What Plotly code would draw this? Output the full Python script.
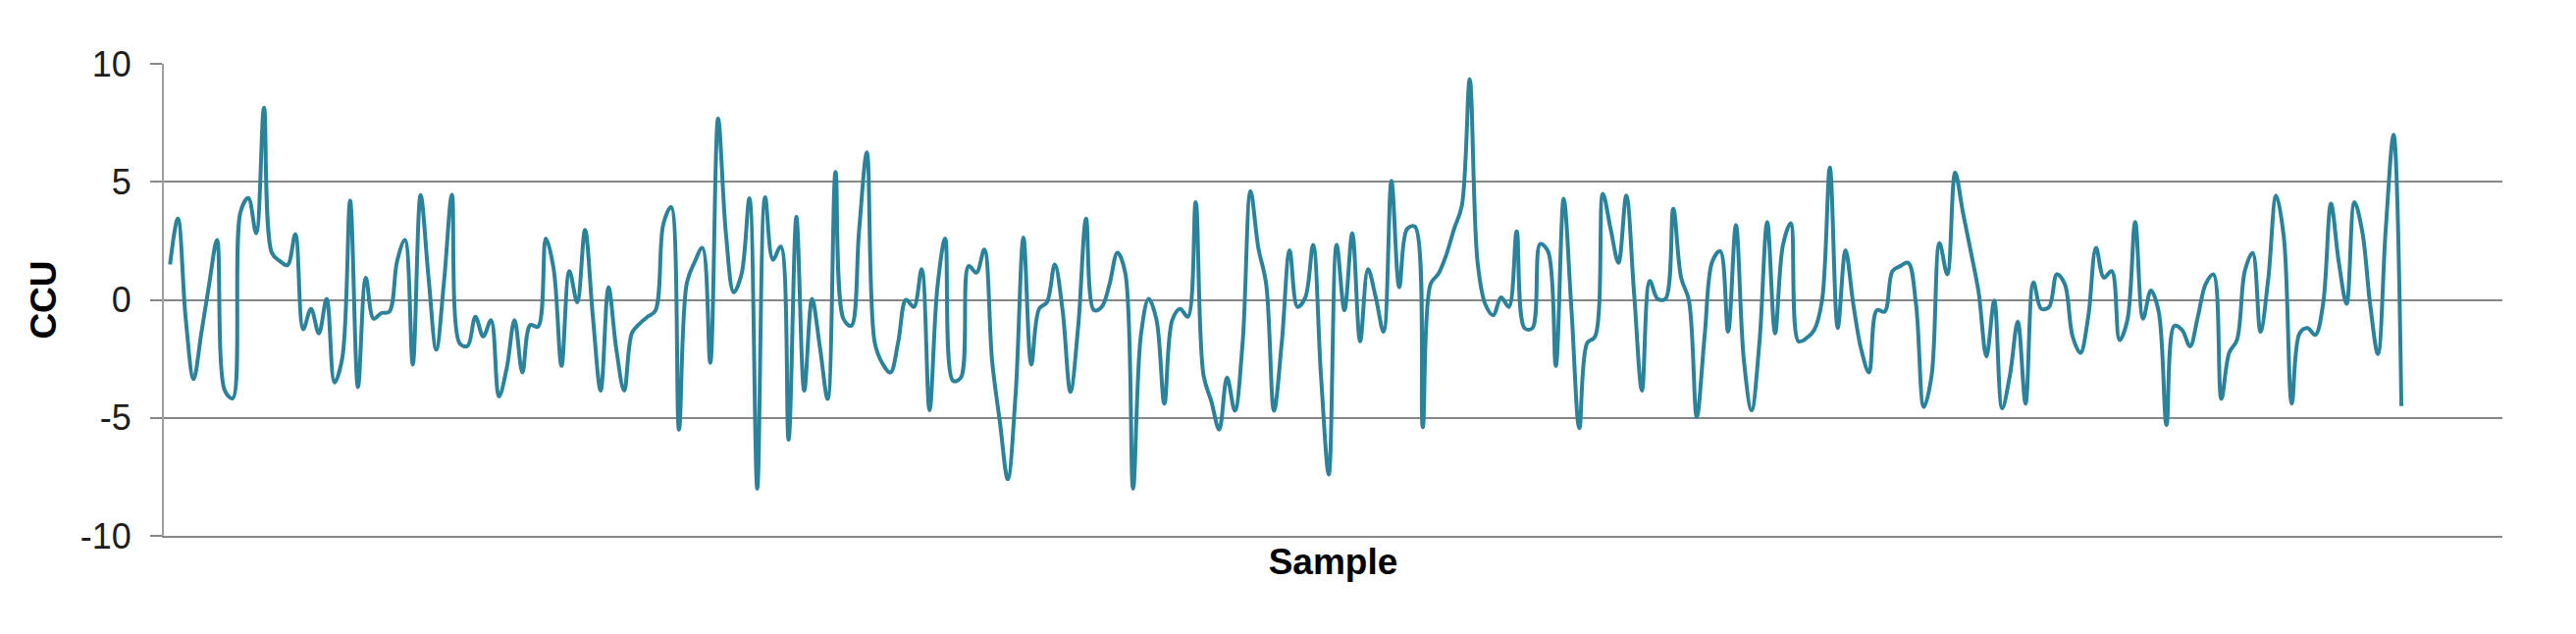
import plotly.graph_objects as go

# CCU value for each sample
ccu = [
    1.5, 3.44, -0.8, -3.36, -1.4, 0.67, 2.54, -3.85, -4.17, 3.72,
    4.31, 2.82, 8.14, 1.99, 1.65, 1.47, 2.78, -1.25, -0.38, -1.42,
    0.04, -3.5, -2.46, 4.2, -3.7, 0.94, -0.8, -0.56, -0.5, 1.64,
    2.54, -2.74, 4.44, 1.0, -2.11, 0.8, 4.45, -1.85, -1.95, -0.72,
    -1.55, -0.86, -4.1, -2.9, -0.86, -3.08, -1.07, -1.14, 2.6, 1.3,
    -2.8, 1.22, -0.1, 2.96, -0.7, -3.85, 0.53, -2.1, -3.85, -1.4,
    -1.0, -0.72, -0.45, 3.2, 3.93, -5.5, 0.7, 1.6, 2.2, -2.67,
    7.68, 2.8, 0.32, 1.1, 4.3, -8.0, 4.35, 1.7, 2.26, -5.93,
    3.51, -3.85, 0.04, -2.0, -4.2, 5.42, -0.8, -1.1, 2.9, 6.25,
    -1.8, -2.7, -3.08, -1.8, 0.0, -0.3, 1.3, -4.68, 0.5, 2.6,
    -3.43, -3.3, 1.43, 1.15, 2.13, -2.6, -5.2, -7.6, -4.0, 2.64,
    -2.74, -0.38, -0.1, 1.5, -0.44, -3.9, -1.1, 3.44, -0.44, -0.3,
    0.67, 2.0, 1.15, -8.0, -1.5, 0.04, -0.86, -4.4, -0.86, -0.38,
    -0.72, 4.14, -3.2, -4.3, -5.5, -3.3, -4.7, -1.8, 4.6, 2.2,
    0.67, -4.7, -1.8, 2.1, -0.3, 0.1, 2.33, -3.2, -7.4, 2.33,
    -0.44, 2.82, -1.76, 1.3, 0.1, -1.35, 5.04, 0.53, 3.0, 3.1,
    -5.4, 0.67, 1.1, 1.9, 3.0, 4.0, 9.35, 1.6, -0.2, -0.65,
    0.1, -0.3, 2.9, -1.2, -1.2, 2.36, 2.05, -2.8, 4.28, -0.44,
    -5.44, -1.83, -1.56, 4.49, 3.0, 1.57, 4.42, 0.25, -3.85, 0.8,
    0.04, 0.04, 3.86, 0.94, -0.03, -4.96, -1.55, 1.64, 2.06, -1.35,
    3.17, -2.5, -4.68, -1.83, 3.3, -1.42, 2.3, 3.24, -1.76, -1.63,
    -1.28, -0.03, 5.6, -1.2, 2.1, -0.2, -2.1, -3.08, -0.44, -0.5,
    1.22, 1.43, 1.57, -0.17, -4.54, -3.2, 2.4, 1.08, 5.39, 3.7,
    2.05, 0.32, -2.4, -0.03, -4.6, -3.2, -0.93, -4.4, 0.74, -0.38,
    -0.3, 1.08, 0.67, -1.55, -2.25, -0.72, 2.2, 0.94, 1.22, -1.7,
    -0.86, 3.3, -0.8, 0.39, -0.5, -5.3, -1.1, -1.28, -1.97, -0.72,
    0.67, 1.08, -4.2, -2.25, -1.7, 1.22, 1.99, -1.35, 0.9, 4.42,
    2.6, -4.4, -1.42, -1.2, -1.49, -0.17, 4.07, 1.6, -0.17, 4.14,
    2.9, -0.17, -2.3, 3.0, 7.0, -4.5,
]
samples = list(range(len(ccu)))

y_ticks = [-10, -5, 0, 5, 10]
y_tick_labels = ["-10", "-5", "0", "5", "10"]
x_title = "Sample"
y_title = "CCU"

LINE = "#2B829B"
GRID = "#878787"
TEXT = "#1E1E1E"
FONT = "Liberation Sans, Arial, sans-serif"

fig = go.Figure()
fig.add_trace(go.Scatter(
    x=samples, y=ccu, mode="lines",
    line=dict(color=LINE, width=4, shape="spline", smoothing=1.0),
    showlegend=False, hoverinfo="x+y",
))

fig.update_layout(
    width=2617, height=638,
    margin=dict(l=159, r=75, t=57, b=100),
    paper_bgcolor="white", plot_bgcolor="white",
    font=dict(family=FONT, color=TEXT),
)
fig.update_xaxes(
    range=[-0.79, 297.9], showticklabels=False, showgrid=False, zeroline=False,
    showline=True, linecolor=GRID, linewidth=2, ticks="",
    title=dict(text="<b>" + x_title + "</b>", font=dict(size=37, family=FONT, color="#000000"), standoff=12),
)
fig.update_yaxes(
    range=[-10, 10], tickvals=y_ticks, ticktext=y_tick_labels,
    showgrid=True, gridcolor=GRID, gridwidth=2,
    zeroline=False, showline=True, linecolor="#A0A0A0", linewidth=2,
    ticks="outside", ticklen=12, tickcolor=GRID, tickwidth=2,
    tickfont=dict(size=36, family=FONT, color=TEXT), ticklabelstandoff=12,
    title=dict(text="<b>" + y_title + "</b>", font=dict(size=37, family=FONT, color="#000000"), standoff=13),
)

fig.write_html("out.html")
